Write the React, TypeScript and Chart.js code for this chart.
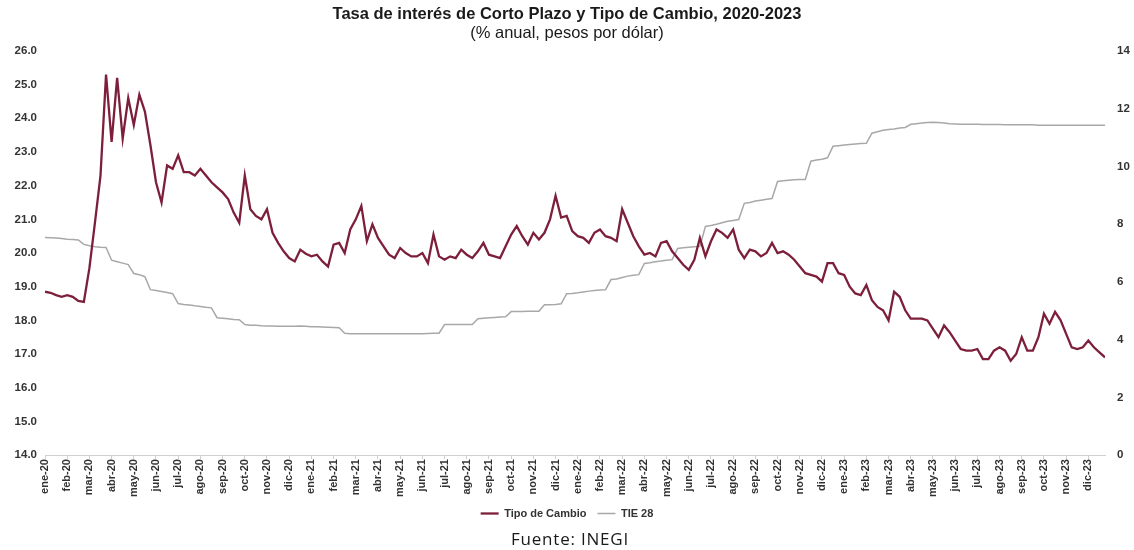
import React, { useEffect, useRef } from 'react';
import { Chart, registerables } from 'chart.js';

Chart.register(...registerables);

// Month labels (one per month, Jan 2020 - Dec 2023)
const monthLabels = [
  'ene-20', 'feb-20', 'mar-20', 'abr-20', 'may-20', 'jun-20', 'jul-20', 'ago-20', 'sep-20', 'oct-20', 'nov-20', 'dic-20',
  'ene-21', 'feb-21', 'mar-21', 'abr-21', 'may-21', 'jun-21', 'jul-21', 'ago-21', 'sep-21', 'oct-21', 'nov-21', 'dic-21',
  'ene-22', 'feb-22', 'mar-22', 'abr-22', 'may-22', 'jun-22', 'jul-22', 'ago-22', 'sep-22', 'oct-22', 'nov-22', 'dic-22',
  'ene-23', 'feb-23', 'mar-23', 'abr-23', 'may-23', 'jun-23', 'jul-23', 'ago-23', 'sep-23', 'oct-23', 'nov-23', 'dic-23',
];

// Weekly observations (4 per month)
const OBS_PER_MONTH = 4;

// Tipo de cambio, pesos por dólar (weekly readings)
const tipoDeCambio = [
  18.85, 18.82, 18.75, 18.7, 18.75, 18.7, 18.58, 18.55, 19.55, 20.9, 22.3, 25.3,
  23.3, 25.2, 23.4, 24.6, 23.8, 24.7, 24.2, 23.2, 22.1, 21.5, 22.6, 22.5,
  22.9, 22.4, 22.4, 22.3, 22.5, 22.3, 22.1, 21.95, 21.8, 21.6, 21.2, 20.9,
  22.3, 21.3, 21.1, 21.0, 21.3, 20.6, 20.3, 20.05, 19.85, 19.75, 20.1, 19.98,
  19.9, 19.95, 19.75, 19.6, 20.25, 20.3, 20.0, 20.7, 21.0, 21.4, 20.35, 20.85,
  20.45, 20.2, 19.95, 19.85, 20.15, 20.0, 19.9, 19.9, 20.0, 19.7, 20.55, 19.9,
  19.8, 19.9, 19.85, 20.1, 19.95, 19.85, 20.05, 20.3, 19.95, 19.9, 19.85, 20.2,
  20.55, 20.8, 20.5, 20.25, 20.6, 20.4, 20.6, 21.0, 21.7, 21.05, 21.1, 20.65,
  20.5, 20.45, 20.3, 20.6, 20.7, 20.5, 20.45, 20.35, 21.3, 20.9, 20.5, 20.2,
  19.95, 20.0, 19.9, 20.3, 20.35, 20.05, 19.85, 19.65, 19.5, 19.8, 20.45, 19.9,
  20.35, 20.7, 20.6, 20.45, 20.7, 20.1, 19.85, 20.1, 20.05, 19.9, 20.0, 20.3,
  20.0, 20.05, 19.95, 19.8, 19.6, 19.4, 19.35, 19.3, 19.15, 19.7, 19.7, 19.4,
  19.35, 19.0, 18.8, 18.75, 19.05, 18.6, 18.4, 18.3, 18.0, 18.85, 18.7, 18.3,
  18.05, 18.05, 18.05, 18.0, 17.75, 17.5, 17.85, 17.65, 17.4, 17.15, 17.1, 17.1,
  17.15, 16.85, 16.85, 17.1, 17.2, 17.1, 16.8, 17.0, 17.5, 17.1, 17.1, 17.5,
  18.2, 17.9, 18.25, 18.0, 17.6, 17.2, 17.15, 17.2, 17.4, 17.2, 17.05, 16.9,
];

// TIIE 28 días, % anual (weekly readings)
const tie28 = [
  7.54, 7.53, 7.52, 7.5, 7.48, 7.47, 7.45, 7.3, 7.25, 7.22, 7.2, 7.19,
  6.75, 6.7, 6.65, 6.6, 6.29, 6.25, 6.18, 5.73, 5.7, 5.67, 5.63, 5.59,
  5.25, 5.22, 5.2, 5.17, 5.15, 5.12, 5.1, 4.76, 4.74, 4.72, 4.7, 4.69,
  4.52, 4.5, 4.5, 4.48, 4.47, 4.47, 4.46, 4.46, 4.46, 4.46, 4.47, 4.46,
  4.45, 4.45, 4.44, 4.43, 4.42, 4.41, 4.22, 4.2, 4.2, 4.2, 4.2, 4.2,
  4.2, 4.2, 4.2, 4.2, 4.2, 4.2, 4.2, 4.2, 4.2, 4.21, 4.22, 4.22,
  4.52, 4.52, 4.52, 4.52, 4.52, 4.52, 4.72, 4.74, 4.76, 4.77, 4.78, 4.79,
  4.97, 4.97, 4.97, 4.98, 4.98, 4.98, 5.21, 5.21, 5.22, 5.24, 5.59, 5.6,
  5.62, 5.65, 5.68, 5.7, 5.72, 5.73, 6.08, 6.1, 6.15, 6.2, 6.23, 6.25,
  6.64, 6.66, 6.7, 6.72, 6.75, 6.77, 7.16, 7.18, 7.2, 7.22, 7.23, 7.92,
  7.95, 8.0, 8.05, 8.1, 8.13, 8.16, 8.72, 8.75, 8.8, 8.83, 8.86, 8.89,
  9.48, 9.5, 9.52, 9.54, 9.55, 9.55, 10.18, 10.22, 10.25, 10.3, 10.7, 10.72,
  10.74, 10.76, 10.78, 10.79, 10.8, 11.15, 11.2, 11.25, 11.28, 11.3, 11.33, 11.35,
  11.46, 11.48, 11.5, 11.52, 11.53, 11.52, 11.5, 11.48, 11.47, 11.46, 11.46, 11.46,
  11.46, 11.45, 11.45, 11.45, 11.45, 11.44, 11.44, 11.44, 11.44, 11.44, 11.44, 11.43,
  11.43, 11.43, 11.43, 11.43, 11.43, 11.43, 11.43, 11.43, 11.43, 11.43, 11.43, 11.43,
];

const TITLE = 'Tasa de interés de Corto Plazo y Tipo de Cambio, 2020-2023';
const SUBTITLE = '(% anual, pesos por dólar)';
const SOURCE = 'Fuente: INEGI';

const FONT = "'Liberation Sans', Arial, Helvetica, sans-serif";
const FX_COLOR = '#7d1f3b';
const TIE_COLOR = '#a8a8a8';
const TEXT_COLOR = '#333333';

export default function App() {
  const canvasRef = useRef<HTMLCanvasElement | null>(null);

  useEffect(() => {
    const canvas = canvasRef.current;
    if (!canvas) return;
    const toPoints = (arr: number[]) => arr.map((v, i) => ({ x: i / OBS_PER_MONTH, y: v }));
    const chart = new Chart(canvas, {
      type: 'line',
      data: {
        datasets: [
          {
            label: 'Tipo de Cambio',
            data: toPoints(tipoDeCambio),
            borderColor: FX_COLOR,
            backgroundColor: FX_COLOR,
            borderWidth: 2.3,
            pointRadius: 0,
            tension: 0,
            yAxisID: 'y',
          },
          {
            label: 'TIE 28',
            data: toPoints(tie28),
            borderColor: TIE_COLOR,
            backgroundColor: TIE_COLOR,
            borderWidth: 1.5,
            pointRadius: 0,
            tension: 0,
            yAxisID: 'y1',
          },
        ],
      },
      options: {
        animation: false,
        responsive: false,
        maintainAspectRatio: false,
        layout: { padding: { left: 0, right: 0, top: 0, bottom: 21 } },
        plugins: {
          tooltip: { enabled: false },
          title: {
            display: true,
            text: TITLE,
            color: '#1a1a1a',
            font: { family: FONT, size: 16.5, weight: 'bold', lineHeight: 1.2 },
            padding: { top: 5, bottom: 0 },
          },
          subtitle: {
            display: true,
            text: SUBTITLE,
            color: '#1a1a1a',
            font: { family: FONT, size: 16.5, weight: 'normal', lineHeight: 1.1 },
            padding: { top: 0, bottom: 8 },
          },
          legend: {
            display: true,
            position: 'bottom',
            labels: {
              usePointStyle: true,
              pointStyle: 'line',
              pointStyleWidth: 18,
              boxHeight: 11,
              padding: 11,
              color: TEXT_COLOR,
              font: { family: FONT, size: 11, weight: 'bold' },
            },
          },
        },
        scales: {
          x: {
            type: 'linear',
            min: 0,
            max: 47.75,
            afterBuildTicks: (scale: any) => {
              scale.ticks = monthLabels.map((_, i) => ({ value: i }));
            },
            ticks: {
              autoSkip: false,
              maxRotation: 90,
              minRotation: 90,
              padding: 0,
              color: TEXT_COLOR,
              font: { family: FONT, size: 11, weight: 'bold' },
              callback: (v: any) => monthLabels[Math.round(Number(v))] ?? '',
            },
            grid: { display: true, drawOnChartArea: false, drawTicks: true, tickLength: 4, color: '#d0d0d0' },
            border: { display: true, color: '#d0d0d0' },
          },
          y: {
            type: 'linear',
            position: 'left',
            min: 14,
            max: 26,
            afterFit: (scale: any) => {
              scale.width = 45;
            },
            ticks: {
              stepSize: 1,
              padding: 8,
              color: TEXT_COLOR,
              font: { family: FONT, size: 11.5, weight: 'bold' },
              callback: (v: any) => Number(v).toFixed(1),
            },
            grid: { display: false, drawTicks: false },
            border: { display: false },
          },
          y1: {
            type: 'linear',
            position: 'right',
            min: 0,
            max: 14,
            afterFit: (scale: any) => {
              scale.width = 29;
            },
            ticks: {
              stepSize: 2,
              padding: 12,
              color: TEXT_COLOR,
              font: { family: FONT, size: 11.5, weight: 'bold' },
            },
            grid: { display: false, drawTicks: false },
            border: { display: false },
          },
        },
      },
    });
    return () => chart.destroy();
  }, []);

  return (
    <div style={{ position: 'fixed', left: 0, top: 0, width: 1134, height: 550, background: '#ffffff' }}>
      <canvas ref={canvasRef} width={1134} height={550} style={{ position: 'absolute', left: 0, top: 0, width: 1134, height: 550 }} />
      <div
        style={{
          position: 'absolute',
          left: 0,
          width: 1140,
          top: 529,
          textAlign: 'center',
          fontFamily: "'Open Sans', sans-serif",
          fontSize: 17,
          letterSpacing: 0.8,
          color: '#1a1a1a',
          lineHeight: '20px',
        }}
      >
        {SOURCE}
      </div>
    </div>
  );
}
